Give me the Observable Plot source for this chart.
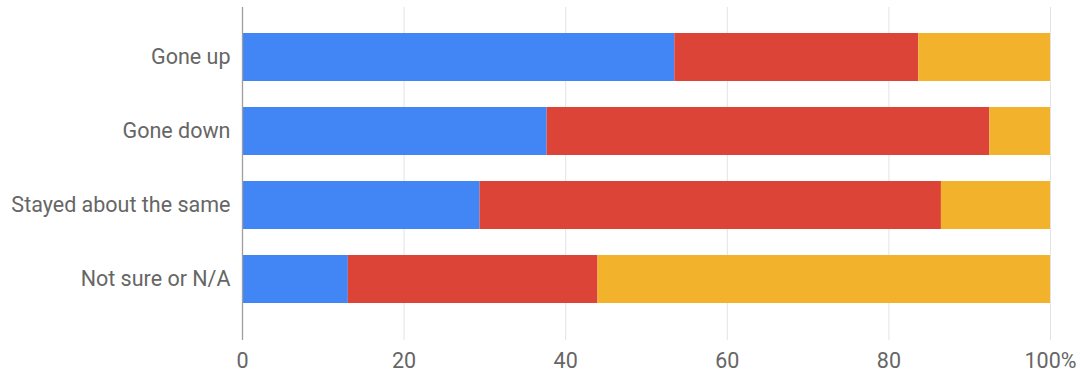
<!DOCTYPE html>
<html>
<head>
<meta charset="utf-8">
<script src="https://cdn.jsdelivr.net/npm/d3@7"></script>
<script src="https://cdn.jsdelivr.net/npm/@observablehq/plot@0.6"></script>
<style>
  html, body { margin: 0; padding: 0; background: #fff; }
  #chart svg { display: block; }
</style>
</head>
<body>
<div id="chart"></div>
<script>
const categories = ["Gone up", "Gone down", "Stayed about the same", "Not sure or N/A"];
const seriesNames = ["A", "B", "C"];
const seriesA = [53.5, 37.7, 29.4, 13.1];
const seriesB = [30.2, 54.8, 57.1, 30.9];
const seriesC = [16.3, 7.5, 13.5, 56.0];
const seriesColors = ["#4285f4", "#db4437", "#f2b22c"];
const xTicks = [0, 20, 40, 60, 80, 100];

const data = [];
[seriesA, seriesB, seriesC].forEach((vals, si) => {
  vals.forEach((v, i) => data.push({category: categories[i], series: seriesNames[si], value: v}));
});

const fmt = d => d === 100 ? "100%" : String(d);

const chart = Plot.plot({
  width: 1080,
  height: 372,
  marginLeft: 242,
  marginRight: 30,
  marginTop: 7,
  marginBottom: 32,
  style: {fontFamily: "Roboto, sans-serif", fontSize: "21.5px", color: "#666", background: "#fff"},
  x: {domain: [0, 100], ticks: xTicks, tickFormat: fmt, label: null},
  y: {domain: categories, paddingInner: 0.353, paddingOuter: 0, insetTop: 25, insetBottom: 37, label: null},
  color: {domain: seriesNames, range: seriesColors},
  marks: [
    Plot.gridX(xTicks.filter(d => d > 0), {stroke: "#e3e3e3", strokeOpacity: 1}),
    Plot.barX(data, Plot.stackX({x: "value", y: "category", fill: "series", order: seriesNames})),
    Plot.ruleX([0], {stroke: "#9e9e9e", strokeWidth: 1.3}),
    Plot.axisY({tickSize: 0, tickPadding: 12, fill: "#666", fontSize: 21.5}),
    Plot.axisX({ticks: xTicks, tickFormat: fmt, tickSize: 0, tickPadding: 12, fill: "#666", fontSize: 21.5})
  ]
});
document.getElementById("chart").appendChild(chart);
</script>
</body>
</html>
